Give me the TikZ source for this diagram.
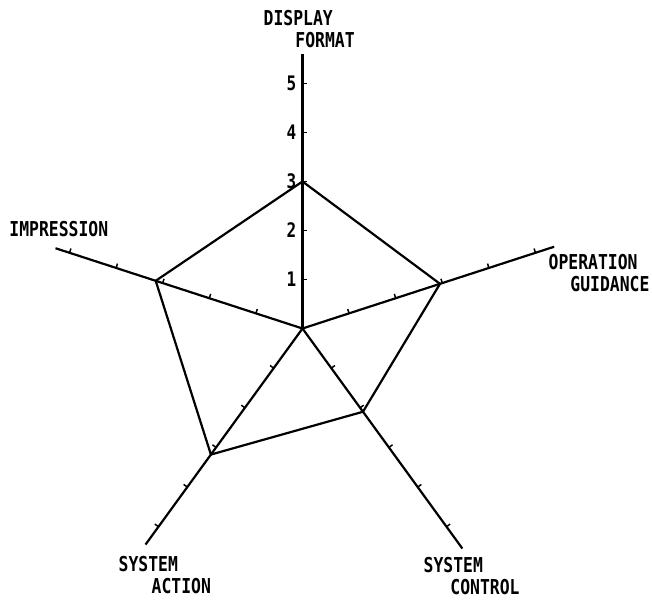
\documentclass[tikz,border=0pt]{standalone}
\usepackage{fontspec}
\newfontfamily\radarfont[FakeStretch=0.8]{DejaVu Sans Mono Bold}

\begin{document}
\begin{tikzpicture}[x=49pt, y=49pt,
    axis/.style={line width=2.2pt},
    tickmark/.style={line width=1.5pt},
    score/.style={line width=2.2pt, line join=miter},
    axislabel/.style={font=\radarfont\fontsize{20.5}{22}\selectfont, align=left, anchor=base west, inner sep=0pt},
    ticklabel/.style={font=\radarfont\fontsize{20}{22}\selectfont, anchor=east, inner sep=0pt, xshift=-6pt}]
    % Fix the page to the size of the scan
    \fill[white] (-302.5pt,-270.5pt) rectangle (349.5pt,328.5pt);
    \useasboundingbox (-302.5pt,-270.5pt) rectangle (349.5pt,328.5pt);

    % Centre of the chart
    \coordinate (O) at (0,0);

    % Draw the five axes with their ticks
    \foreach \name/\ang/\len/\side in {df/90/5.6/-1, og/18/5.4/1, sc/-54/5.55/1, sa/-126/5.45/-1, imp/162/5.3/-1} {
        \coordinate (\name) at (\ang:\len);
        \draw[axis] (O) -- (\name);
        \foreach \k in {1,...,5}
            \draw[tickmark] (\ang:\k) -- ++({\ang+\side*90}:4.5pt);
    }

    % Scale numbers on the vertical axis
    \foreach \k in {1,...,5}
        \node[ticklabel] (num\k) at (0,\k) {\k};

    % Scores
    \coordinate (p-df) at (90:3);
    \coordinate (p-og) at (18:2.95);
    \coordinate (p-sc) at (-54:2.1);
    \coordinate (p-sa) at (-126:3.18);
    \coordinate (p-imp) at (162:3.15);
    \draw[score] (p-df) -- (p-og) -- (p-sc) -- (p-sa) -- (p-imp) -- cycle;

    % Axis names (anchored on the baseline of their last line)
    \node[axislabel] (lbl-df) at (-39pt,280.5pt) {DISPLAY\\\hspace*{31.7pt}FORMAT};
    \node[axislabel] (lbl-og) at (246pt,36.8pt) {OPERATION\\\hspace*{21.7pt}GUIDANCE};
    \node[axislabel] (lbl-sc) at (121pt,-266pt) {SYSTEM\\\hspace*{26.7pt}CONTROL};
    \node[axislabel] (lbl-sa) at (-184pt,-265pt) {SYSTEM\\\hspace*{33pt}ACTION};
    \node[axislabel] (lbl-imp) at (-293.3pt,91.8pt) {IMPRESSION};
\end{tikzpicture}
\end{document}
